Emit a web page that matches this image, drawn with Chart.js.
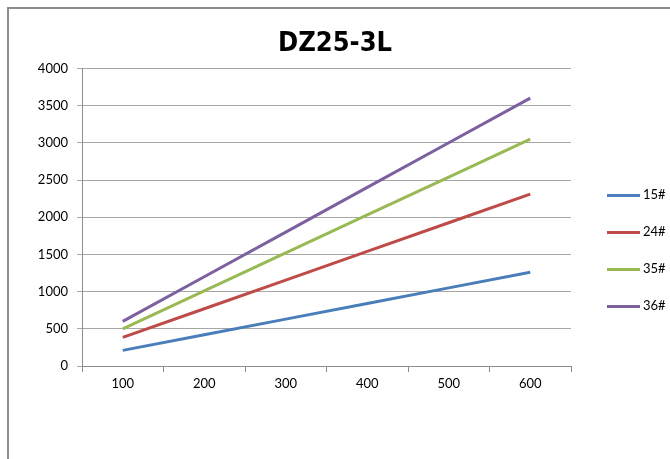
<!DOCTYPE html>
<html>
<head>
<meta charset="utf-8">
<script src="https://cdn.jsdelivr.net/npm/chart.js@4"></script>
<style>
  html, body { margin: 0; padding: 0; background: #fff; }
  #wrap { position: relative; width: 670px; height: 459px; overflow: hidden; }
  #frame { position: absolute; left: 7px; top: 7px; width: 700px; height: 500px; border: 2px solid #8c8c8c; box-sizing: border-box; }
  #grafica { position: absolute; left: 0; top: 0; }
  #leyenda { position: absolute; left: 607px; top: 186px; font: 13px Lato, sans-serif; color: #000; }
  .item { height: 37px; display: flex; align-items: flex-start; }
  .linea { width: 33px; height: 3px; margin-top: 8px; margin-right: 3px; }
</style>
</head>
<body>
<div id="wrap">
  <div id="frame"></div>
  <canvas id="grafica" width="670" height="459"></canvas>
  <div id="leyenda"></div>
</div>
<script>
// ======================
// DATOS
// ======================
const categorias = ['100', '200', '300', '400', '500', '600'];
const serie15 = [210, 420, 630, 840, 1050, 1260];
const serie24 = [385, 770, 1155, 1540, 1925, 2310];
const serie35 = [500, 1010, 1520, 2030, 2540, 3050];
const serie36 = [600, 1200, 1800, 2400, 3000, 3600];
const nombres = ['15#', '24#', '35#', '36#'];
const colores = ['#4A7EBB', '#BE4B48', '#98B954', '#7D60A0'];
const ticksY = [0, 500, 1000, 1500, 2000, 2500, 3000, 3500, 4000];

const series = [serie15, serie24, serie35, serie36];
const fuente = { family: 'Lato, sans-serif', size: 13 };

function armar_grafica() {
    const el = document.getElementById('grafica');
    if (!el) return;

    new Chart(el, {
        type: 'line',
        data: {
            labels: categorias,
            datasets: series.map((d, i) => ({
                label: nombres[i],
                data: d,
                borderColor: colores[i],
                backgroundColor: colores[i],
                borderWidth: 3,
                pointRadius: 0,
                tension: 0
            }))
        },
        options: {
            responsive: false,
            animation: false,
            layout: { padding: { left: 0, right: 0, top: 18, bottom: 0 } },
            plugins: {
                legend: { display: false },
                tooltip: { enabled: false },
                title: {
                    display: true,
                    text: 'DZ25-3L',
                    color: '#000',
                    font: { family: '"DejaVu Sans Condensed", "Liberation Sans Narrow", sans-serif', size: 27, weight: 'bold' },
                    padding: { top: 10, bottom: 8 }
                }
            },
            scales: {
                x: {
                    offset: true,
                    afterFit: s => { s.height = 93; },
                    grid: { drawOnChartArea: false, drawTicks: true, tickLength: 6, color: '#8c8c8c', offset: true },
                    border: { color: '#8c8c8c', width: 1 },
                    ticks: { color: '#000', font: fuente, padding: 4, maxRotation: 0 }
                },
                y: {
                    min: 0,
                    max: 4000,
                    afterFit: s => { s.width = 82; },
                    afterBuildTicks: s => { s.ticks = ticksY.map(v => ({ value: v })); },
                    grid: { color: '#a6a6a6', tickLength: 5, lineWidth: 1 },
                    border: { color: '#8c8c8c', width: 1 },
                    ticks: { color: '#000', font: fuente, padding: 9, callback: v => String(v) }
                },
                // eje vacio a la derecha, solo reserva espacio para la leyenda
                derecha: {
                    position: 'right',
                    display: true,
                    afterFit: s => { s.width = 99; },
                    grid: { display: false },
                    border: { display: false },
                    ticks: { display: false }
                }
            }
        }
    });

    // leyenda a la derecha
    const ley = document.getElementById('leyenda');
    nombres.forEach((n, i) => {
        const item = document.createElement('div');
        item.className = 'item';
        item.innerHTML = '<div class="linea" style="background:' + colores[i] + '"></div><span>' + n + '</span>';
        ley.appendChild(item);
    });
}

document.addEventListener('DOMContentLoaded', armar_grafica);
</script>
</body>
</html>
